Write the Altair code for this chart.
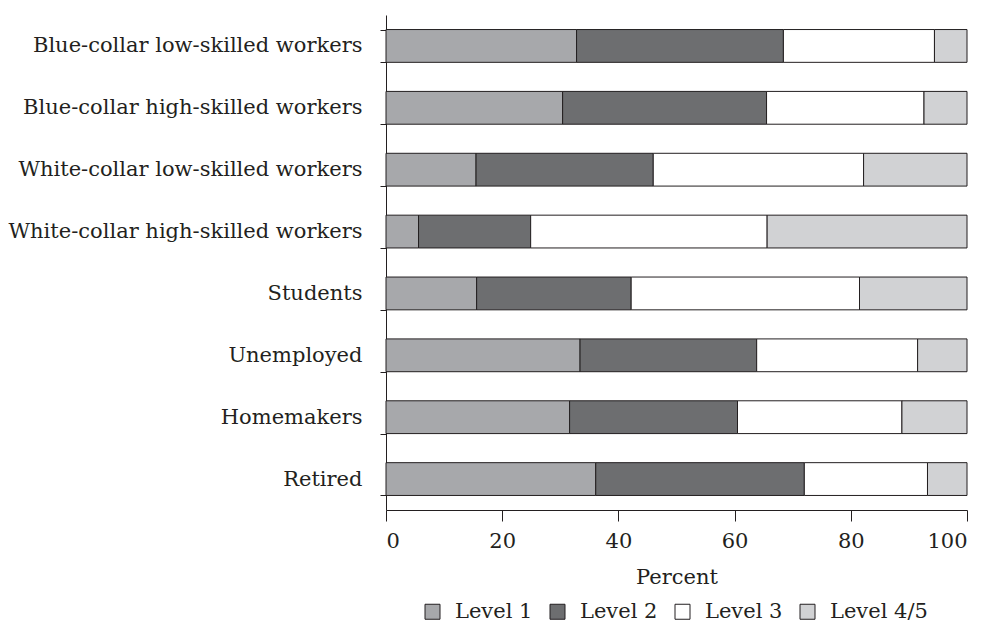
import altair as alt
import pandas as pd

categories = [
    "Blue-collar low-skilled workers",
    "Blue-collar high-skilled workers",
    "White-collar low-skilled workers",
    "White-collar high-skilled workers",
    "Students",
    "Unemployed",
    "Homemakers",
    "Retired",
]
levels = ["Level 1", "Level 2", "Level 3", "Level 4/5"]
level1 = [32.8, 30.4, 15.5, 5.6, 15.6, 33.4, 31.6, 36.1]
level2 = [35.6, 35.1, 30.5, 19.3, 26.6, 30.4, 28.9, 35.9]
level3 = [26.0, 27.1, 36.2, 40.7, 39.3, 27.7, 28.3, 21.2]
level45 = [5.6, 7.4, 17.8, 34.4, 18.5, 8.5, 11.2, 6.8]
colors = ["#a7a8ab", "#6d6e70", "#ffffff", "#d1d2d4"]

rows = []
for i, c in enumerate(categories):
    for j, (lv, vals) in enumerate(zip(levels, [level1, level2, level3, level45])):
        rows.append({"group": c, "level": lv, "order": j, "value": vals[i]})
df = pd.DataFrame(rows)

FONT = "DejaVu Serif"
FS = 21

chart = alt.Chart(df).mark_bar(stroke="#231f20", strokeWidth=1).encode(
    y=alt.Y("group:N", sort=categories, title=None,
            scale=alt.Scale(paddingInner=0.47, paddingOuter=0.235),
            axis=alt.Axis(tickBand="extent", tickSize=6, labelPadding=18,
                          labelFontSize=FS, labelFont=FONT, labelColor="#231f20",
                          domainColor="#231f20", tickColor="#231f20", labelLimit=500)),
    x=alt.X("value:Q", stack="zero", title="Percent",
            scale=alt.Scale(domain=[0, 100], nice=False),
            axis=alt.Axis(values=[0, 20, 40, 60, 80, 100], grid=False, tickSize=11,
                          labelFontSize=FS, labelFont=FONT, labelColor="#231f20",
                          titleFontSize=FS, titleFont=FONT, titleFontWeight="normal",
                          titleColor="#231f20", titlePadding=15, labelPadding=9,
                          domainColor="#231f20", tickColor="#231f20")),
    color=alt.Color("level:N", sort=levels,
                    scale=alt.Scale(domain=levels, range=colors),
                    legend=alt.Legend(orient="none", legendX=36, legendY=586,
                                      direction="horizontal", title=None,
                                      symbolType="square", symbolSize=225,
                                      symbolStrokeColor="#231f20", symbolStrokeWidth=1,
                                      labelOffset=12,
                                      labelFontSize=FS, labelFont=FONT, labelColor="#231f20",
                                      columnPadding=14)),
    order=alt.Order("order:Q"),
).properties(
    width=581, height=495,
    padding={"left": 0, "top": -4, "right": 0, "bottom": 0},
).configure_view(stroke=None)

chart.save("out.html", embed_options={"renderer": "svg", "actions": False})
